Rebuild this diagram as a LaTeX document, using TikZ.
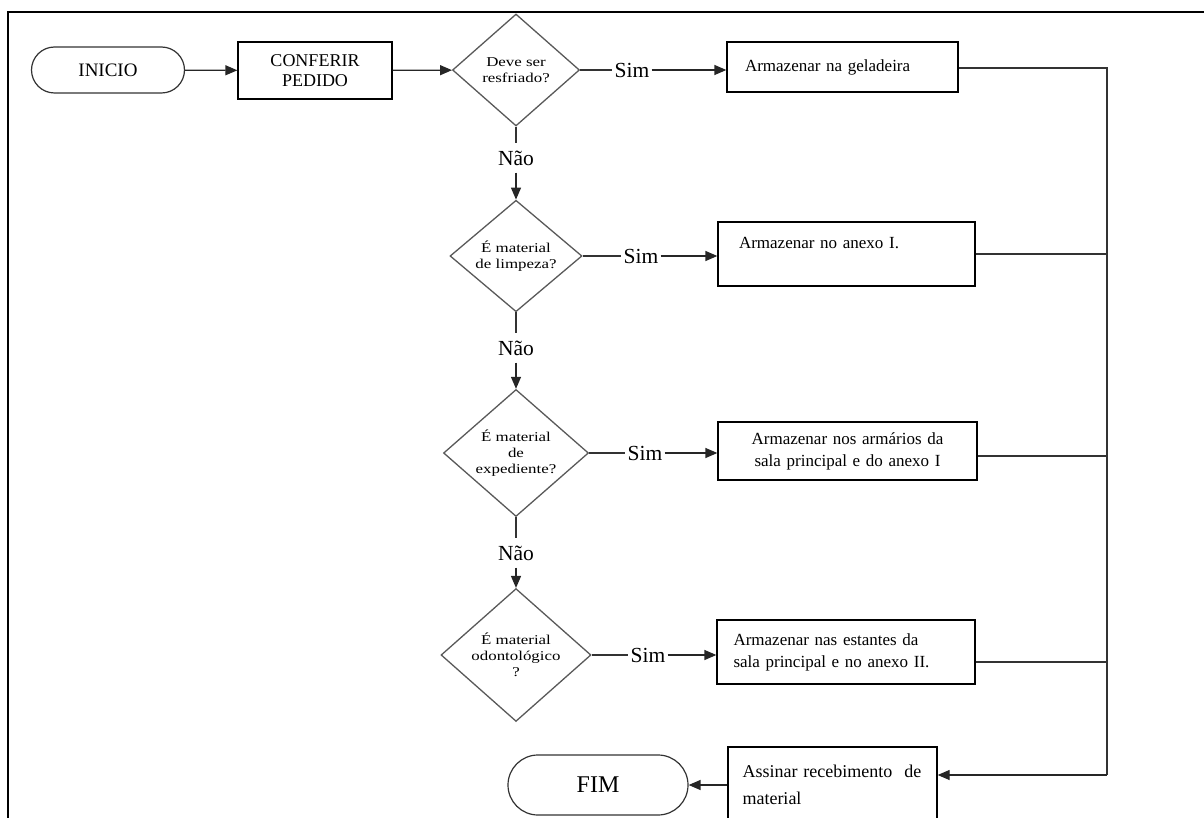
\documentclass[tikz,border=0pt]{standalone}
\usepackage{fontspec}
\setmainfont{Liberation Serif}
\newfontfamily\widefont{Liberation Serif}[FakeStretch=1.25]
\usetikzlibrary{shapes.geometric,arrows.meta}
\begin{document}
\begin{tikzpicture}[x=1pt,y=-1pt,
  every node/.style={inner sep=0pt},
  box/.style={draw,line width=1.3pt,font=\fontsize{17}{22}\selectfont},
  term/.style={draw=black!80,line width=1.2pt},
  dec/.style={diamond,draw=black!65,line width=1.3pt,align=center,
    font=\widefont\fontsize{13.5}{16}\selectfont},
  lab/.style={font=\fontsize{21.5}{23}\selectfont,inner xsep=2pt,inner ysep=7pt},
  ln/.style={line width=1.3pt,draw=black!80},
  arr/.style={line width=1.3pt,draw=black!85,-{Triangle[length=12pt,width=10pt]}}]
\useasboundingbox (0,0) rectangle (1204,818);

% outer frame
\draw[line width=1.6pt] (8,818) -- (8,12) -- (1204,12);

% start, check, first question
\node[term,minimum width=153,minimum height=46,rounded corners=23,
  font=\fontsize{19}{22}\selectfont] (ini) at (108,70) {INICIO};
\node[box,minimum width=154,minimum height=57,align=center,
  font=\fontsize{18}{20}\selectfont] (conf) at (315,70.5) {CONFERIR\\PEDIDO};
\node[dec,minimum width=127,minimum height=112] (d1) at (516,70) {Deve ser\\resfriado?};

% questions
\node[dec,minimum width=132,minimum height=109] (d2) at (516,256) {É material\\de limpeza?};
\node[dec,minimum width=145,minimum height=120] (d3) at (516,453) {É material\\de\\expediente?};
\node[dec,minimum width=150,minimum height=122] (d4) at (516,655) {É material\\odontológico\\?};

% storage boxes
\node[box,minimum width=231,minimum height=50,text width=195,align=left] (b1) at (842.5,67) {Armazenar na geladeira};
\node[box,minimum width=257,minimum height=64,text width=215,align=left] (b2) at (846.5,254) {Armazenar no anexo I.\\\mbox{}};
\node[box,minimum width=259,minimum height=58,text width=230,align=center] (b3) at (847.5,451) {Armazenar nos armários da\\sala principal e do anexo I};
\node[box,minimum width=258,minimum height=64,text width=225,align=left] (b4) at (846,652) {Armazenar nas estantes da\\sala principal e no anexo II.};

% signing and end
\node[box,minimum width=209,minimum height=75,text width=180,align=left,
  font=\fontsize{18}{27}\selectfont] (b5) at (832.5,784.5) {Assinar recebimento\ \ de\\material};
\node[term,minimum width=180,minimum height=60,rounded corners=30,
  font=\fontsize{24}{26}\selectfont] (fim) at (598,785) {FIM};

% labels on the branches
\node[lab] (s1) at (632,70) {Sim};
\node[lab] (s2) at (641,256) {Sim};
\node[lab] (s3) at (645,453) {Sim};
\node[lab] (s4) at (648,655) {Sim};
\node[lab] (n1) at (516,158) {Não};
\node[lab] (n2) at (516,348) {Não};
\node[lab] (n3) at (516,553) {Não};

% main line
\draw[arr] (ini) -- (conf);
\draw[arr] (conf) -- (d1);

% "Sim" branches
\draw[ln] (d1.east) -- (s1.west);
\draw[arr] (s1.east) -- (b1.west |- s1.east);
\draw[ln] (d2.east) -- (s2.west);
\draw[arr] (s2.east) -- (b2.west |- s2.east);
\draw[ln] (d3.east) -- (s3.west);
\draw[arr] (s3.east) -- (b3.west |- s3.east);
\draw[ln] (d4.east) -- (s4.west);
\draw[arr] (s4.east) -- (b4.west |- s4.east);

% "Não" branches
\draw[ln] (d1.south) -- (n1.north);
\draw[arr] (n1.south) -- (d2.north);
\draw[ln] (d2.south) -- (n2.north);
\draw[arr] (n2.south) -- (d3.north);
\draw[ln] (d3.south) -- (n3.north);
\draw[arr] (n3.south) -- (d4.north);

% collecting bus on the right
\coordinate (bus) at (1107,775);
\draw[ln] ([yshift=-1pt]b1.east) -- ([yshift=-1pt]b1.east -| bus) -- (bus);
\draw[ln] (b2.east) -- (b2.east -| bus);
\draw[ln] ([yshift=-5pt]b3.east) -- ([yshift=-5pt]b3.east -| bus);
\draw[ln] ([yshift=-10pt]b4.east) -- ([yshift=-10pt]b4.east -| bus);
\draw[arr] (bus) -- (b5.east |- bus);
\draw[arr] (b5.west |- fim.east) -- (fim.east);
\end{tikzpicture}
\end{document}
